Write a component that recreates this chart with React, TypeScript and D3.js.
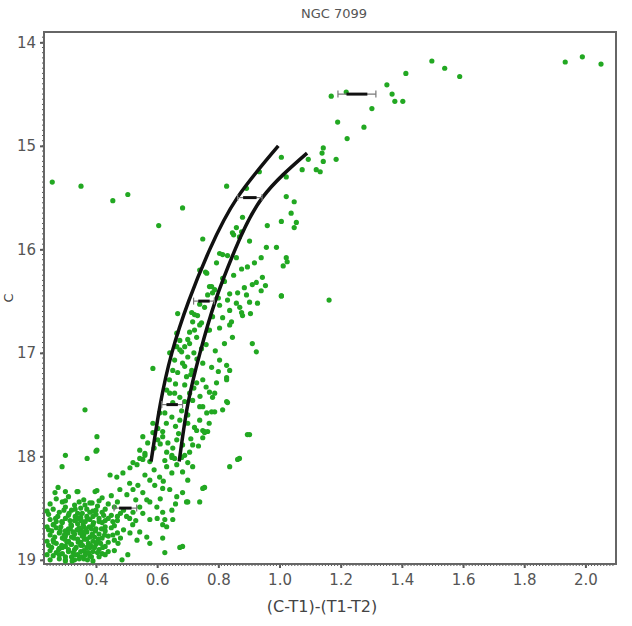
import * as d3 from "d3";
import { useEffect, useRef } from "react";

// colour index (C-T1)-(T1-T2) and C magnitude for each star
const brightGiants: [number, number][] = [
  [1.498, 14.18], [1.54, 14.25], [1.589, 14.33], [1.934, 14.19], [1.99, 14.14], [2.051, 14.21],
  [1.413, 14.3], [1.351, 14.41], [1.368, 14.5], [1.377, 14.57], [1.403, 14.57], [1.302, 14.64],
  [1.169, 14.52], [1.218, 14.48], [1.19, 14.77], [1.276, 14.82], [1.221, 14.93], [1.143, 15.02],
  [1.139, 15.07], [1.143, 15.15], [1.185, 15.13], [1.094, 15.13], [1.074, 15.23], [1.12, 15.23],
  [1.133, 15.25], [1.006, 15.11], [0.934, 15.25], [1.022, 15.3], [0.827, 15.39], [0.892, 15.41],
  [1.022, 15.49], [1.048, 15.54], [1.038, 15.65], [0.879, 15.69], [1.006, 15.73], [1.055, 15.74],
  [1.048, 15.79], [0.96, 15.77], [0.859, 15.79], [0.876, 15.83], [0.85, 15.86], [0.902, 15.92],
  [0.749, 15.9], [0.957, 15.98], [0.99, 15.98], [0.846, 15.84], [0.869, 15.88],
];

const upperBranch: [number, number][] = [
  [0.804, 16.04], [0.814, 16.05], [0.83, 16.06], [0.859, 16.08], [0.94, 16.08], [1.022, 16.08],
  [1.025, 16.12], [1.012, 16.16], [0.794, 16.13], [0.918, 16.13], [0.895, 16.17], [0.876, 16.19],
  [0.758, 16.22], [0.944, 16.27], [0.814, 16.28], [0.924, 16.32], [0.911, 16.34], [0.954, 16.35],
  [0.885, 16.37], [0.771, 16.36], [0.94, 16.4], [0.863, 16.42], [0.892, 16.44], [0.837, 16.43],
  [0.781, 16.42], [0.765, 16.44], [1.006, 16.45], [1.162, 16.49], [0.83, 16.49], [0.859, 16.52],
  [0.902, 16.51], [0.928, 16.52], [0.739, 16.53], [0.755, 16.56], [0.804, 16.54], [0.837, 16.59],
  [0.876, 16.61], [0.905, 16.62], [0.713, 16.61], [0.722, 16.63], [0.732, 16.64], [0.667, 16.62],
  [0.781, 16.65], [0.814, 16.66], [0.843, 16.7], [0.879, 16.64], [0.716, 16.7], [0.745, 16.71],
  [0.739, 16.2], [0.762, 16.23], [0.778, 16.36], [0.788, 16.39], [0.82, 16.31], [0.85, 16.25],
  [0.8, 16.47], [0.87, 16.56],
];

const lowerBranch: [number, number][] = [
  [0.771, 16.78], [0.706, 16.8], [0.729, 16.85], [0.664, 16.94], [0.68, 16.99], [0.7, 17.04],
  [0.749, 17.1], [0.778, 17.14], [0.804, 17.07], [0.827, 17.12], [0.651, 17.17], [0.683, 17.1],
  [0.911, 16.91], [0.924, 16.99], [0.846, 16.85], [0.82, 16.91], [0.696, 17.23], [0.729, 17.29],
  [0.749, 17.26], [0.794, 17.29], [0.827, 17.24], [0.781, 17.43], [0.814, 17.55], [0.631, 17.36],
  [0.657, 17.39], [0.674, 17.43], [0.706, 17.39], [0.716, 17.46], [0.739, 17.52], [0.762, 17.58],
  [0.788, 17.57], [0.625, 17.58], [0.648, 17.62], [0.674, 17.65], [0.586, 17.68], [0.602, 17.73],
  [0.618, 17.76], [0.7, 17.68], [0.729, 17.75], [0.755, 17.76], [0.664, 17.84], [0.683, 17.89],
  [0.553, 17.81], [0.569, 17.87], [0.631, 17.96], [0.648, 18.01], [0.902, 17.79], [0.869, 18.02],
  [0.837, 18.1], [0.534, 18.08], [0.553, 18.03], [0.7, 18.06], [0.716, 18.1], [0.837, 17.17],
  [0.827, 17.26], [0.771, 17.38], [0.788, 17.39], [0.827, 17.47], [0.749, 17.52], [0.778, 17.57],
  [0.739, 17.65], [0.722, 17.72], [0.749, 17.75], [0.749, 17.82], [0.69, 17.99], [0.706, 17.96],
  [0.716, 17.89], [0.641, 17.39], [0.641, 17.0], [0.657, 17.07], [0.674, 16.97], [0.667, 17.19],
  [0.713, 17.17], [0.674, 16.88], [0.69, 16.94], [0.706, 16.91], [0.664, 16.81], [0.722, 16.78],
  [0.739, 16.73], [0.765, 16.78], [0.804, 16.76], [0.837, 16.73], [0.608, 17.58], [0.651, 17.48],
  [0.586, 17.77], [0.602, 17.84], [0.618, 17.81], [0.635, 17.87], [0.651, 17.92], [0.543, 17.94],
  [0.56, 17.97], [0.648, 17.99], [0.657, 18.02], [0.68, 18.01], [0.83, 17.48], [0.895, 17.79],
  [0.863, 18.03], [0.765, 17.76], [0.755, 17.77], [0.69, 17.31], [0.72, 17.34], [0.68, 17.56],
  [0.7, 17.6], [0.76, 17.33], [0.74, 17.42], [0.66, 17.71], [0.71, 17.83], [0.64, 17.26],
  [0.79, 16.98], [0.76, 16.92], [0.72, 17.0], [0.69, 17.13], [0.61, 17.88], [0.67, 17.78],
  [0.7, 16.87], [0.745, 16.96], [0.66, 17.3], [0.71, 17.21], [0.63, 17.68], [0.69, 17.47],
  [0.59, 17.92], [0.625, 18.04], [0.735, 17.9], [0.77, 17.68], [0.8, 17.18], [0.73, 17.06],
];

const turnoff: [number, number][] = [
  [0.289, 18.1], [0.446, 18.18], [0.468, 18.2], [0.488, 18.16], [0.511, 18.11], [0.521, 18.06],
  [0.543, 18.02], [0.56, 17.99], [0.576, 18.05], [0.478, 18.32], [0.501, 18.37], [0.521, 18.32],
  [0.537, 18.28], [0.553, 18.35], [0.576, 18.23], [0.592, 18.28], [0.608, 18.2], [0.618, 18.31],
  [0.631, 18.1], [0.648, 18.16], [0.664, 18.08], [0.683, 18.15], [0.7, 18.23], [0.641, 18.32],
  [0.664, 18.39], [0.683, 18.35], [0.696, 18.44], [0.739, 18.44], [0.755, 18.3], [0.576, 18.44],
  [0.599, 18.49], [0.618, 18.54], [0.648, 18.52], [0.553, 18.55], [0.576, 18.61], [0.625, 18.61],
  [0.631, 18.68], [0.511, 18.74], [0.534, 18.81], [0.543, 18.73], [0.566, 18.78], [0.576, 18.84],
  [0.618, 18.79], [0.472, 18.84], [0.504, 18.95], [0.625, 18.93], [0.674, 18.88], [0.683, 18.87],
  [0.543, 18.49], [0.566, 18.42], [0.521, 18.54], [0.276, 18.3], [0.338, 18.34], [0.403, 18.33],
  [0.749, 18.31], [0.7, 18.44], [0.618, 18.66], [0.651, 18.61], [0.485, 19.0], [0.266, 18.35],
  [0.364, 18.47], [0.387, 18.45], [0.59, 18.13], [0.61, 18.41], [0.53, 18.42], [0.6, 18.6],
  [0.51, 18.26], [0.56, 18.18], [0.62, 18.24], [0.66, 18.46], [0.53, 18.62],
];

const mainSequence: [number, number][] = [
  [0.27, 18.41], [0.31, 18.39], [0.36, 18.42], [0.42, 18.4], [0.45, 18.38],
  [0.25, 18.46], [0.29, 18.44], [0.33, 18.47], [0.38, 18.45], [0.41, 18.43], [0.44, 18.46], [0.47, 18.44],
  [0.26, 18.51], [0.3, 18.49], [0.32, 18.52], [0.35, 18.5], [0.39, 18.53], [0.43, 18.51], [0.46, 18.49], [0.49, 18.52],
  [0.245, 18.56], [0.28, 18.54], [0.31, 18.57], [0.34, 18.55], [0.37, 18.58], [0.4, 18.56], [0.42, 18.54], [0.45, 18.57], [0.48, 18.55],
  [0.25, 18.61], [0.27, 18.63], [0.3, 18.6], [0.33, 18.62], [0.35, 18.59], [0.38, 18.61], [0.41, 18.63], [0.44, 18.6], [0.47, 18.62], [0.51, 18.6],
  [0.26, 18.66], [0.29, 18.64], [0.32, 18.67], [0.34, 18.65], [0.36, 18.68], [0.39, 18.66], [0.42, 18.64], [0.46, 18.67],
  [0.245, 18.71], [0.27, 18.69], [0.3, 18.72], [0.31, 18.7], [0.35, 18.71], [0.37, 18.73], [0.4, 18.7], [0.43, 18.72], [0.45, 18.69], [0.49, 18.71],
  [0.25, 18.76], [0.28, 18.74], [0.3, 18.77], [0.33, 18.75], [0.36, 18.76], [0.38, 18.78], [0.41, 18.75], [0.44, 18.77], [0.47, 18.74],
  [0.26, 18.81], [0.29, 18.79], [0.31, 18.82], [0.34, 18.8], [0.35, 18.83], [0.37, 18.8], [0.39, 18.82], [0.42, 18.79], [0.46, 18.81],
  [0.245, 18.86], [0.27, 18.84], [0.3, 18.87], [0.32, 18.85], [0.35, 18.86], [0.38, 18.88], [0.4, 18.85], [0.43, 18.87],
  [0.25, 18.91], [0.28, 18.89], [0.31, 18.92], [0.33, 18.9], [0.36, 18.91], [0.37, 18.93], [0.41, 18.9], [0.44, 18.92],
  [0.26, 18.96], [0.29, 18.94], [0.32, 18.97], [0.34, 18.95], [0.38, 18.96], [0.42, 18.94],
  [0.25, 19.0], [0.28, 18.99], [0.3, 19.01], [0.33, 19.0], [0.36, 18.99], [0.39, 19.01],
  [0.24, 18.53], [0.24, 18.68], [0.24, 18.82], [0.24, 18.95], [0.52, 18.66], [0.5, 18.58],
  [0.48, 18.79], [0.46, 18.91], [0.34, 18.6], [0.36, 18.73], [0.32, 18.78], [0.29, 18.88],
  [0.275, 18.58], [0.295, 18.52], [0.315, 18.62], [0.345, 18.69], [0.365, 18.63], [0.385, 18.7],
  [0.325, 18.73], [0.355, 18.77], [0.375, 18.84], [0.395, 18.78], [0.285, 18.68], [0.265, 18.78],
  [0.305, 18.83], [0.335, 18.88], [0.365, 18.95], [0.405, 18.93], [0.345, 18.99], [0.27, 18.93],
  [0.41, 18.6], [0.43, 18.68], [0.455, 18.63], [0.415, 18.84], [0.39, 18.58], [0.37, 18.51],
  [0.405, 18.48], [0.345, 18.44], [0.3, 18.43], [0.425, 18.57], [0.47, 18.58], [0.455, 18.76],
  [0.255, 18.72], [0.255, 18.88], [0.3, 18.97], [0.325, 18.93], [0.385, 18.97], [0.355, 18.55],
];

// densest part of the main-sequence clump
const clumpCore: [number, number][] = [
  [0.332, 18.58], [0.352, 18.62], [0.372, 18.6], [0.392, 18.64], [0.318, 18.66], [0.338, 18.71],
  [0.358, 18.66], [0.378, 18.68], [0.398, 18.72], [0.418, 18.7], [0.308, 18.74], [0.328, 18.79],
  [0.348, 18.74], [0.368, 18.7], [0.388, 18.75], [0.408, 18.8], [0.428, 18.76], [0.298, 18.8],
  [0.318, 18.85], [0.342, 18.83], [0.362, 18.8], [0.382, 18.86], [0.402, 18.83], [0.422, 18.88],
  [0.288, 18.86], [0.31, 18.9], [0.33, 18.95], [0.35, 18.92], [0.37, 18.88], [0.39, 18.92],
  [0.41, 18.97], [0.28, 18.95], [0.3, 19.0], [0.322, 19.01], [0.352, 18.97], [0.372, 19.0],
  [0.395, 18.88], [0.268, 18.6], [0.288, 18.63], [0.262, 18.66], [0.283, 18.72], [0.262, 18.83],
  [0.278, 18.9], [0.312, 18.55], [0.332, 18.51], [0.38, 18.54], [0.4, 18.52], [0.43, 18.62],
  [0.44, 18.83], [0.43, 18.95], [0.356, 18.86], [0.376, 18.93], [0.316, 18.7], [0.296, 18.76],
];

const fieldStars: [number, number][] = [
  [0.257, 15.35], [0.351, 15.39], [0.455, 15.53], [0.504, 15.47], [0.605, 15.77], [0.683, 15.6],
  [1.006, 16.45], [0.586, 17.15], [0.364, 17.55], [0.403, 17.81], [0.4, 17.95], [0.3, 17.99],
  [0.371, 18.02], [0.403, 17.94], [0.341, 18.34], [0.3, 18.34], [0.397, 18.34],
];

// the two fiducial ridge lines
const ridgeA: [number, number][] = [
  [0.58, 18.05], [0.61, 17.5], [0.648, 17.0], [0.703, 16.5], [0.772, 16.0], [0.862, 15.5], [0.996, 15.0],
];
const ridgeB: [number, number][] = [
  [0.672, 18.05], [0.7, 17.5], [0.74, 17.0], [0.79, 16.5], [0.855, 16.0], [0.944, 15.5], [1.09, 15.07],
];

// photometric error bars
const errMag = [14.5, 15.5, 16.5, 17.5, 18.5];
const errColor = [1.253, 0.903, 0.753, 0.649, 0.496];
const errHalf = [0.062, 0.04, 0.034, 0.034, 0.037];

const xTicks = [0.4, 0.6, 0.8, 1.0, 1.2, 1.4, 1.6, 1.8, 2.0];
const yTicks = [14, 15, 16, 17, 18, 19];

const App = () => {
  const svgRef = useRef<SVGSVGElement>(null);
  const width = 632;
  const height = 626;
  const margin = { top: 32, right: 16, bottom: 62, left: 44 };

  useEffect(() => {
    const svg = d3.select(svgRef.current).attr("width", width).attr("height", height);
    svg.selectAll("*").remove();

    const x = d3.scaleLinear().domain([0.23, 2.1]).range([margin.left, width - margin.right]);
    const y = d3.scaleLinear().domain([13.9, 19.04]).range([margin.top, height - margin.bottom]);
    const font = "'DejaVu Sans', Verdana, sans-serif";
    const axisColor = "#5a5a5a";

    // minor ticks
    const minorX = d3.range(0.24, 2.1, 0.01);
    svg.append("g").selectAll("line").data(minorX).enter().append("line")
      .attr("x1", (d) => x(d)).attr("x2", (d) => x(d))
      .attr("y1", y.range()[1]).attr("y2", y.range()[1] + 2)
      .attr("stroke", axisColor).attr("stroke-width", 1);
    const minorY = d3.range(13.95, 19.04, 0.05);
    svg.append("g").selectAll("line").data(minorY).enter().append("line")
      .attr("x1", x.range()[0] - 2).attr("x2", x.range()[0])
      .attr("y1", (d) => y(d)).attr("y2", (d) => y(d))
      .attr("stroke", axisColor).attr("stroke-width", 1);

    const xAxis = svg.append("g")
      .attr("transform", `translate(0,${y.range()[1]})`)
      .call(d3.axisBottom(x).tickValues(xTicks).tickFormat(d3.format(".1f")).tickSize(4).tickPadding(6));
    const yAxis = svg.append("g")
      .attr("transform", `translate(${x.range()[0]},0)`)
      .call(d3.axisLeft(y).tickValues(yTicks).tickFormat(d3.format("d")).tickSize(4).tickPadding(4));
    [xAxis, yAxis].forEach((g) => {
      g.select(".domain").remove();
      g.selectAll("line").attr("stroke", axisColor).attr("stroke-width", 2);
      g.selectAll("text").attr("fill", "#555").style("font-family", font).style("font-size", "15px");
    });

    // frame
    svg.append("rect")
      .attr("x", x.range()[0]).attr("y", y.range()[0])
      .attr("width", x.range()[1] - x.range()[0]).attr("height", y.range()[1] - y.range()[0])
      .attr("fill", "none").attr("stroke", "#666").attr("stroke-width", 2);

    const plot = svg.append("g");
    const stars = [...brightGiants, ...upperBranch, ...lowerBranch, ...turnoff, ...mainSequence, ...clumpCore, ...fieldStars];
    plot.selectAll("circle").data(stars).enter().append("circle")
      .attr("cx", (d) => x(d[0])).attr("cy", (d) => y(d[1]))
      .attr("r", 2.6).attr("fill", "#22a822");

    const line = d3.line<[number, number]>().x((d) => x(d[0])).y((d) => y(d[1])).curve(d3.curveNatural);
    [ridgeA, ridgeB].forEach((r) => {
      plot.append("path").attr("d", line(r)).attr("fill", "none").attr("stroke", "#111").attr("stroke-width", 3.5);
    });

    errMag.forEach((m, i) => {
      const x0 = x(errColor[i] - errHalf[i]);
      const x1 = x(errColor[i] + errHalf[i]);
      const yy = y(m);
      const g = plot.append("g");
      g.append("line").attr("x1", x0).attr("x2", x1).attr("y1", yy).attr("y2", yy).attr("stroke", "#777").attr("stroke-width", 1.2);
      [x0, x1].forEach((xx) => {
        g.append("line").attr("x1", xx).attr("x2", xx).attr("y1", yy - 3.5).attr("y2", yy + 3.5).attr("stroke", "#777").attr("stroke-width", 1.2);
      });
      g.append("line")
        .attr("x1", x(errColor[i] - errHalf[i] * 0.55)).attr("x2", x(errColor[i] + errHalf[i] * 0.55))
        .attr("y1", yy).attr("y2", yy).attr("stroke", "#111").attr("stroke-width", 3);
    });

    svg.append("text").attr("x", 334).attr("y", 18).attr("text-anchor", "middle")
      .attr("fill", "#555").style("font-family", font).style("font-size", "13px").text("NGC 7099");
    svg.append("text").attr("x", 322).attr("y", 612).attr("text-anchor", "middle")
      .attr("fill", "#444").style("font-family", font).style("font-size", "16px").text("(C-T1)-(T1-T2)");
    svg.append("text").attr("transform", "translate(13,298) rotate(-90)").attr("text-anchor", "middle")
      .attr("fill", "#444").style("font-family", font).style("font-size", "13px").text("C");
  }, []);

  return (
    <div style={{ position: "absolute", left: 0, top: 0, background: "#fff" }}>
      <svg ref={svgRef} style={{ display: "block" }} />
    </div>
  );
};

export default App;
